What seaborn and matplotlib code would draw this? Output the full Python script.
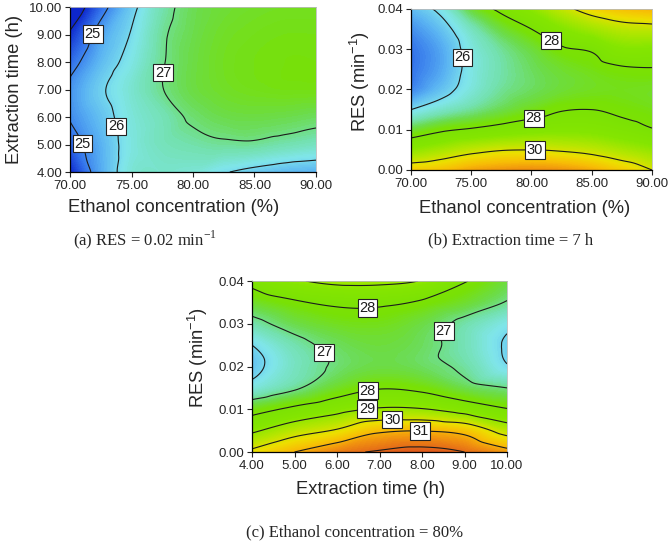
import numpy as np
import matplotlib
matplotlib.use("Agg")
import matplotlib.pyplot as plt
import matplotlib.tri as mtri
import seaborn as sns
from matplotlib.colors import LinearSegmentedColormap, Normalize
from matplotlib.ticker import FormatStrFormatter

sns.set_theme(style="ticks")
plt.rcParams["font.family"] = ["Liberation Sans", "DejaVu Sans"]

# factor axes
ethanol = [70.0, 72.5, 75.0, 77.5, 80.0, 82.5, 85.0, 87.5, 90.0]
time_h = [4.0, 5.0, 6.0, 7.0, 8.0, 9.0, 10.0]
res = [0.0, 0.005, 0.01, 0.015, 0.02, 0.025, 0.03, 0.035, 0.04]

# (a) RES = 0.02, rows = time_h, cols = ethanol
yield_a = [
    [24.0, 25.4, 26.4, 26.5, 26.4, 26.05, 25.8, 25.6, 25.5],
    [24.6, 25.5, 26.3, 26.65, 26.8, 26.9, 26.9, 26.75, 26.6],
    [25.05, 25.7, 26.35, 26.7, 27.1, 27.3, 27.35, 27.3, 27.2],
    [25.15, 25.9, 26.45, 26.98, 27.35, 27.55, 27.65, 27.7, 27.7],
    [24.7, 25.6, 26.25, 26.95, 27.35, 27.6, 27.7, 27.75, 27.75],
    [24.1, 25.3, 26.05, 26.9, 27.3, 27.55, 27.65, 27.7, 27.7],
    [23.3, 24.7, 25.8, 26.75, 27.25, 27.45, 27.55, 27.6, 27.6],
]
# (b) time = 7 h, rows = res, cols = ethanol
yield_b = [
    [30.6, 30.8, 31.2, 31.4, 31.5, 31.4, 31.1, 30.6, 30.0],
    [28.9, 29.3, 29.7, 29.95, 30.0, 29.9, 29.7, 29.35, 29.0],
    [27.4, 27.85, 28.1, 28.35, 28.55, 28.65, 28.6, 28.35, 28.05],
    [26.0, 26.5, 26.9, 27.3, 27.65, 27.95, 28.0, 27.85, 27.7],
    [25.0, 25.7, 26.35, 26.9, 27.2, 27.45, 27.6, 27.65, 27.6],
    [24.8, 25.4, 26.25, 26.8, 27.2, 27.5, 27.7, 27.9, 27.95],
    [24.8, 25.4, 26.3, 26.9, 27.4, 27.9, 28.1, 28.7, 28.7],
    [25.1, 25.7, 26.6, 27.4, 28.0, 28.7, 29.2, 29.6, 29.7],
    [25.6, 26.2, 27.4, 28.2, 28.9, 29.7, 30.4, 30.8, 31.0],
]
# (c) ethanol = 80 %, rows = res, cols = time_h
yield_c = [
    [30.2, 31.0, 31.7, 32.1, 32.3, 32.0, 31.3],
    [28.85, 29.6, 30.1, 30.85, 30.97, 30.7, 29.6],
    [27.65, 28.2, 28.7, 29.1, 29.05, 28.6, 28.05],
    [26.3, 26.9, 27.55, 27.95, 27.8, 27.3, 27.0],
    [25.75, 26.6, 27.1, 27.35, 27.2, 26.85, 26.05],
    [26.0, 26.75, 27.2, 27.4, 27.2, 26.7, 25.9],
    [26.75, 27.3, 27.6, 27.65, 27.35, 26.8, 26.2],
    [27.5, 27.9, 28.15, 28.15, 27.9, 27.5, 26.95],
    [28.25, 28.9, 29.2, 29.2, 28.95, 28.05, 27.4],
]

levels_a = [24, 25, 26, 27]
levels_b = [26, 28, 30]
levels_c = [26, 27, 28, 29, 30, 31, 32]

# where the contour labels sit
labels_a = [(71.7, 9.05), (77.8, 7.6), (74.2, 5.7), (71.4, 5.1)]
labels_b = [(74.4, 0.028), (81.8, 0.033), (80.0, 0.016), (80.3, 0.0055)]
labels_c = [(6.7, 0.0355), (5.7, 0.0234), (8.4, 0.0289), (6.7, 0.0156),
            (6.7, 0.0105), (7.3, 0.0072), (7.96, 0.0045)]

vmin, vmax = 24.0, 32.5
stops = [
    (24.0, (0.05, 0.15, 0.80)),
    (24.8, (0.20, 0.45, 0.92)),
    (25.5, (0.35, 0.70, 0.95)),
    (26.2, (0.50, 0.90, 0.92)),
    (26.8, (0.45, 0.88, 0.68)),
    (27.3, (0.42, 0.86, 0.30)),
    (27.8, (0.47, 0.88, 0.02)),
    (28.8, (0.52, 0.90, 0.00)),
    (29.6, (0.72, 0.90, 0.00)),
    (30.3, (0.93, 0.87, 0.00)),
    (30.9, (0.97, 0.74, 0.02)),
    (31.5, (0.94, 0.56, 0.06)),
    (32.1, (0.89, 0.40, 0.10)),
    (32.5, (0.85, 0.30, 0.10)),
]
cmap = LinearSegmentedColormap.from_list(
    "dx", [((v - vmin) / (vmax - vmin), c) for v, c in stops])
norm = Normalize(vmin, vmax)


def draw_panel(ax, x, y, z, levels, label_pos, xlabel, ylabel, xlab_xy, ylab_xy):
    x = np.asarray(x)
    y = np.asarray(y)
    z = np.asarray(z, dtype=float)
    # triangulate in unit square so the cubic smoothing is not skewed
    xs = (x - x[0]) / (x[-1] - x[0])
    ys = (y - y[0]) / (y[-1] - y[0])
    gx, gy = np.meshgrid(xs, ys)
    tri = mtri.Triangulation(gx.ravel(), gy.ravel())
    interp = mtri.CubicTriInterpolator(tri, z.ravel(), kind="geom")
    fine, zf = mtri.UniformTriRefiner(tri).refine_field(z.ravel(), triinterpolator=interp, subdiv=4)
    fine = mtri.Triangulation(x[0] + fine.x * (x[-1] - x[0]),
                              y[0] + fine.y * (y[-1] - y[0]), fine.triangles)

    ax.tricontourf(fine, zf, levels=np.linspace(22, 34, 241), cmap=cmap, norm=norm)
    cs = ax.tricontour(fine, zf, levels=levels, colors="#1c1c1c", linewidths=0.8)
    texts = ax.clabel(cs, fmt="%d", manual=label_pos, inline=False, fontsize=10.5)
    for t in texts:
        t.set_rotation(0)
        t.set_bbox(dict(facecolor="white", edgecolor="#222222", pad=1.3, linewidth=0.8))
    ax.set_xlim(x[0], x[-1])
    ax.set_ylim(y[0], y[-1])
    ax.set_xlabel(xlabel, fontsize=13.2, va="center")
    ax.set_ylabel(ylabel, fontsize=13.2, va="center")
    ax.xaxis.set_label_coords(*xlab_xy)
    ax.yaxis.set_label_coords(*ylab_xy)
    ax.tick_params(labelsize=9.5, length=3.5, width=0.8, direction="out", pad=2)
    for s in ["left", "bottom"]:
        ax.spines[s].set_color("black")
        ax.spines[s].set_linewidth(0.9)
    for s in ["top", "right"]:
        ax.spines[s].set_color("#bbbbbb")
        ax.spines[s].set_linewidth(0.6)


fig = plt.figure(figsize=(6.72, 5.44), dpi=100)
ax_a = fig.add_axes([0.1042, 0.6838, 0.366, 0.3033])
ax_b = fig.add_axes([0.6116, 0.6875, 0.3586, 0.2960])
ax_c = fig.add_axes([0.375, 0.1691, 0.3795, 0.3143])

draw_panel(ax_a, ethanol, time_h, yield_a, levels_a, labels_a,
           "Ethanol concentration (%)", "Extraction time (h)",
           (0.42, -0.215), (-0.226, 0.5))
ax_a.set_xticks([70, 75, 80, 85, 90])
ax_a.set_yticks(time_h)

draw_panel(ax_b, ethanol, res, yield_b, levels_b, labels_b,
           "Ethanol concentration (%)", r"RES (min$^{\mathregular{-1}}$)",
           (0.473, -0.236), (-0.212, 0.55))
ax_b.set_xticks([70, 75, 80, 85, 90])
ax_b.set_yticks([0.0, 0.01, 0.02, 0.03, 0.04])

draw_panel(ax_c, time_h, res, yield_c, levels_c, labels_c,
           "Extraction time (h)", r"RES (min$^{\mathregular{-1}}$)",
           (0.463, -0.222), (-0.212, 0.55))
ax_c.set_xticks(time_h)
ax_c.set_yticks([0.0, 0.01, 0.02, 0.03, 0.04])

for ax in (ax_a, ax_b, ax_c):
    ax.xaxis.set_major_formatter(FormatStrFormatter("%.2f"))
    ax.yaxis.set_major_formatter(FormatStrFormatter("%.2f"))

serif = ["Liberation Serif", "DejaVu Serif"]
fig.text(145 / 672, 1 - 240 / 544, r"(a) RES = 0.02 min$^{\mathregular{-1}}$",
         ha="center", va="center", fontsize=12, family=serif)
fig.text(511 / 672, 1 - 240 / 544, "(b) Extraction time = 7 h",
         ha="center", va="center", fontsize=12, family=serif)
fig.text(355 / 672, 1 - 532 / 544, "(c) Ethanol concentration = 80%",
         ha="center", va="center", fontsize=12, family=serif)

fig.savefig("out.png", dpi=100)
